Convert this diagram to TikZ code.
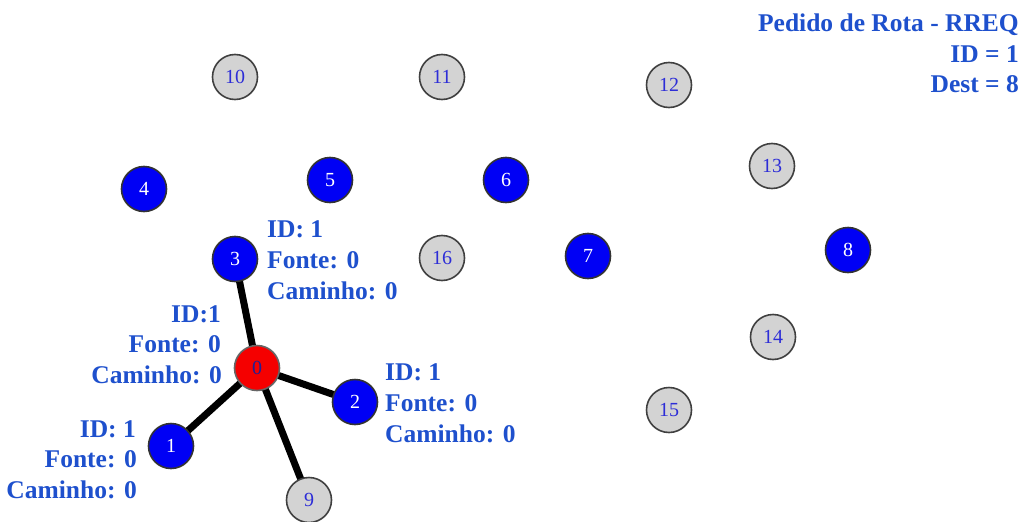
\documentclass[tikz,border=0pt]{standalone}
\usepackage{fontspec}
\setmainfont{Liberation Serif}
\usetikzlibrary{backgrounds}
\definecolor{lbl}{RGB}{30,80,205}
\definecolor{numblue}{RGB}{45,45,215}
\definecolor{nodeblue}{RGB}{0,0,245}
\definecolor{nodegray}{RGB}{211,211,211}
\definecolor{nodered}{RGB}{245,0,0}
\tikzset{
  station/.style={circle, minimum size=45pt, inner sep=0pt, line width=1.6pt,
    draw=black!75, font=\fontsize{20}{20}\selectfont},
  idle/.style={station, fill=nodegray, text=numblue},
  active/.style={station, fill=nodeblue, draw=black!80, text=white},
  source/.style={station, fill=nodered, draw=black!60, text=numblue!70!black},
  link/.style={line width=7pt, black},
  info/.style={inner sep=0pt, text=lbl, font=\fontsize{25.5}{31}\selectfont\bfseries},
  infol/.style={info, anchor=base west},
  infor/.style={info, anchor=base east}
}
\begin{document}
\begin{tikzpicture}[x=1pt, y=-1pt]
\useasboundingbox (0,0) rectangle (1028,522);

% idle stations
\node[idle] (n9)  at (309,500) {9};
\node[idle] (n10) at (235,77)  {10};
\node[idle] (n11) at (442,77)  {11};
\node[idle] (n12) at (669,85)  {12};
\node[idle] (n13) at (772,166) {13};
\node[idle] (n14) at (773,337) {14};
\node[idle] (n15) at (669,410) {15};
\node[idle] (n16) at (442,258) {16};

% active stations
\node[active] (n1) at (171,446) {1};
\node[active] (n2) at (355,402) {2};
\node[active] (n3) at (235,259) {3};
\node[active] (n4) at (144,189) {4};
\node[active] (n5) at (330,180) {5};
\node[active] (n6) at (506,180) {6};
\node[active] (n7) at (588,256) {7};
\node[active] (n8) at (848,250) {8};

% source station
\node[source] (n0) at (257,368) {0};

% white page, then the request broadcast from the source under the stations
\begin{scope}[on background layer]
  \fill[white] (0,0) rectangle (1028,522);
  \draw[link] (n0.center) -- (n3.center);
  \draw[link] (n0.center) -- (n1.center);
  \draw[link] (n0.center) -- (n2.center);
  \draw[link] (n0.center) -- (n9.center);
\end{scope}

% RREQ header
\node[infor] (h1) at (1019,31) {Pedido de Rota - RREQ};
\node[infor] (h2) at (1019,62) {ID = 1};
\node[infor] (h3) at (1019,92) {Dest = 8};

% table at station 3
\node[infol] (a1) at (267,237) {ID: 1};
\node[infol] (a2) at (267,268) {Fonte: 0};
\node[infol] (a3) at (267,299) {Caminho: 0};

% table at station 0
\node[infor] (b1) at (221,322) {ID:1};
\node[infor] (b2) at (221,352) {Fonte: 0};
\node[infor] (b3) at (222,383) {Caminho: 0};

% table at station 2
\node[infol] (c1) at (385,380) {ID: 1};
\node[infol] (c2) at (385,411) {Fonte: 0};
\node[infol] (c3) at (385,442) {Caminho: 0};

% table at station 1
\node[infor] (d1) at (136,437) {ID: 1};
\node[infor] (d2) at (137,467) {Fonte: 0};
\node[infor] (d3) at (137,498) {Caminho: 0};
\end{tikzpicture}
\end{document}
